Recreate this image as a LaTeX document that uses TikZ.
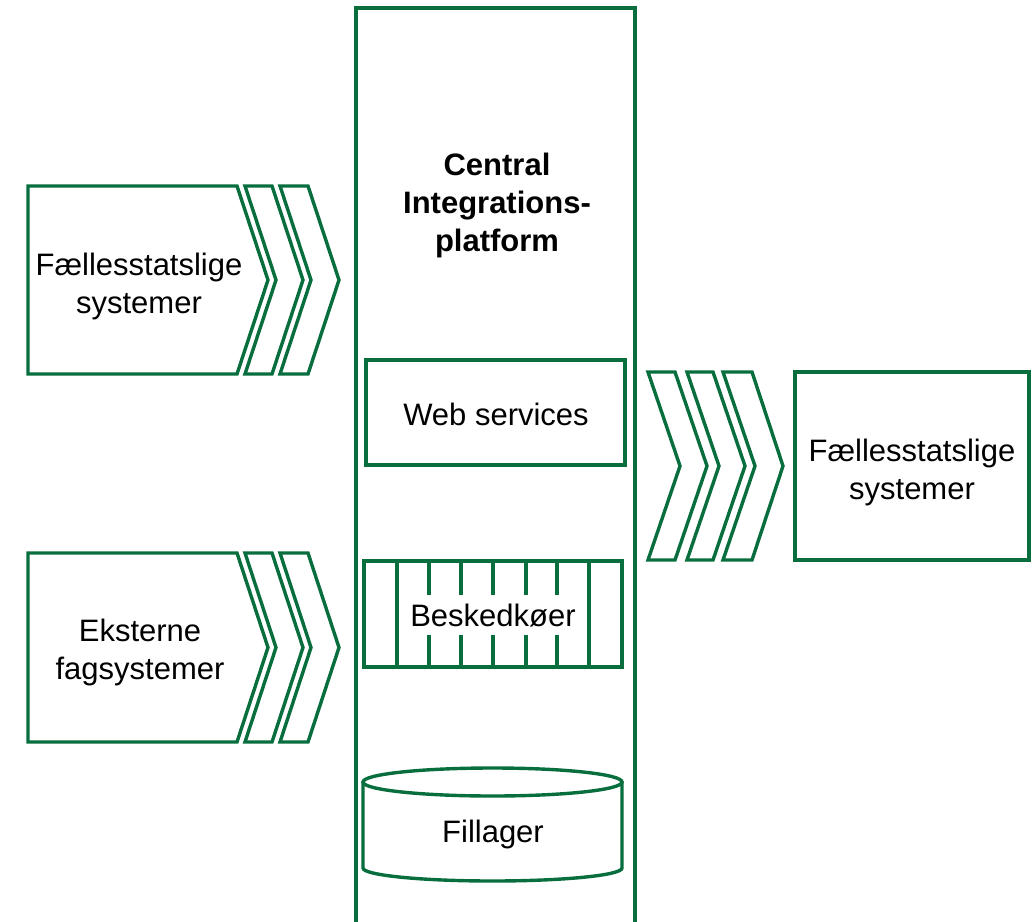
\documentclass[tikz,border=0pt]{standalone}
\usepackage{fontspec}
\setmainfont{Liberation Sans}
\definecolor{grn}{RGB}{8,110,62}
\begin{document}
\begin{tikzpicture}[x=1pt,y=-1pt,
  shp/.style={draw=grn, line width=3.4pt, line join=miter},
  lbl/.style={font=\fontsize{31}{38}\selectfont, align=center, inner sep=0pt},
  ttl/.style={font=\fontsize{31}{38}\selectfont\bfseries, align=center, inner sep=0pt}]
\useasboundingbox (0,0) rectangle (1036,921);
% central platform (open at bottom)
\draw[shp] (356,930) -- (356,8) -- (635,8) -- (635,930);
\node[ttl] (title) at (497,205) {Central\\Integrations-\\platform};
% left top group
\draw[shp] (28,186) -- (237,186) -- (268,280) -- (237,374) -- (28,374) -- cycle;
\draw[shp] (245,186) -- (272,186) -- (303,280) -- (272,374) -- (245,374) -- (276,280) -- cycle;
\draw[shp] (280,186) -- (308,186) -- (339,280) -- (308,374) -- (280,374) -- (311,280) -- cycle;
\node[lbl] (fs1) at (139,286) {Fællesstatslige\\systemer};
% left bottom group
\draw[shp] (28,553) -- (237,553) -- (268,647.5) -- (237,742) -- (28,742) -- cycle;
\draw[shp] (245,553) -- (272,553) -- (303,647.5) -- (272,742) -- (245,742) -- (276,647.5) -- cycle;
\draw[shp] (280,553) -- (308,553) -- (339,647.5) -- (308,742) -- (280,742) -- (311,647.5) -- cycle;
\node[lbl] (ekst) at (140,652) {Eksterne\\fagsystemer};
% right group
\draw[shp] (648,372) -- (675,372) -- (707,466) -- (675,560) -- (648,560) -- (680,466) -- cycle;
\draw[shp] (687,372) -- (713,372) -- (745,466) -- (713,560) -- (687,560) -- (719,466) -- cycle;
\draw[shp] (723,372) -- (752,372) -- (783,466) -- (752,560) -- (723,560) -- (755,466) -- cycle;
\draw[shp] (795,372) rectangle (1029,560);
\node[lbl] (fs2) at (912,472) {Fællesstatslige\\systemer};
% web services
\draw[shp] (366,360) rectangle (625,465);
\node[lbl] (ws) at (496,414) {Web services};
% message queues
\draw[shp] (364,561) rectangle (622,667);
\foreach \xx in {397,429,461,493,526,557,589}
  \draw[shp] (\xx,561) -- (\xx,667);
\node[lbl, fill=white, inner ysep=9pt, text height=22pt, text depth=0pt] (mq) at (493,615) {Beskedkøer};
% file store cylinder
\draw[shp] (363,782) -- (363,868) arc[start angle=180, end angle=360, x radius=129.5, y radius=-13] -- (622,782);
\draw[shp] (492.5,782) ellipse[x radius=129.5, y radius=14];
\node[lbl] (fl) at (493,834) {Fillager};
\end{tikzpicture}
\end{document}
